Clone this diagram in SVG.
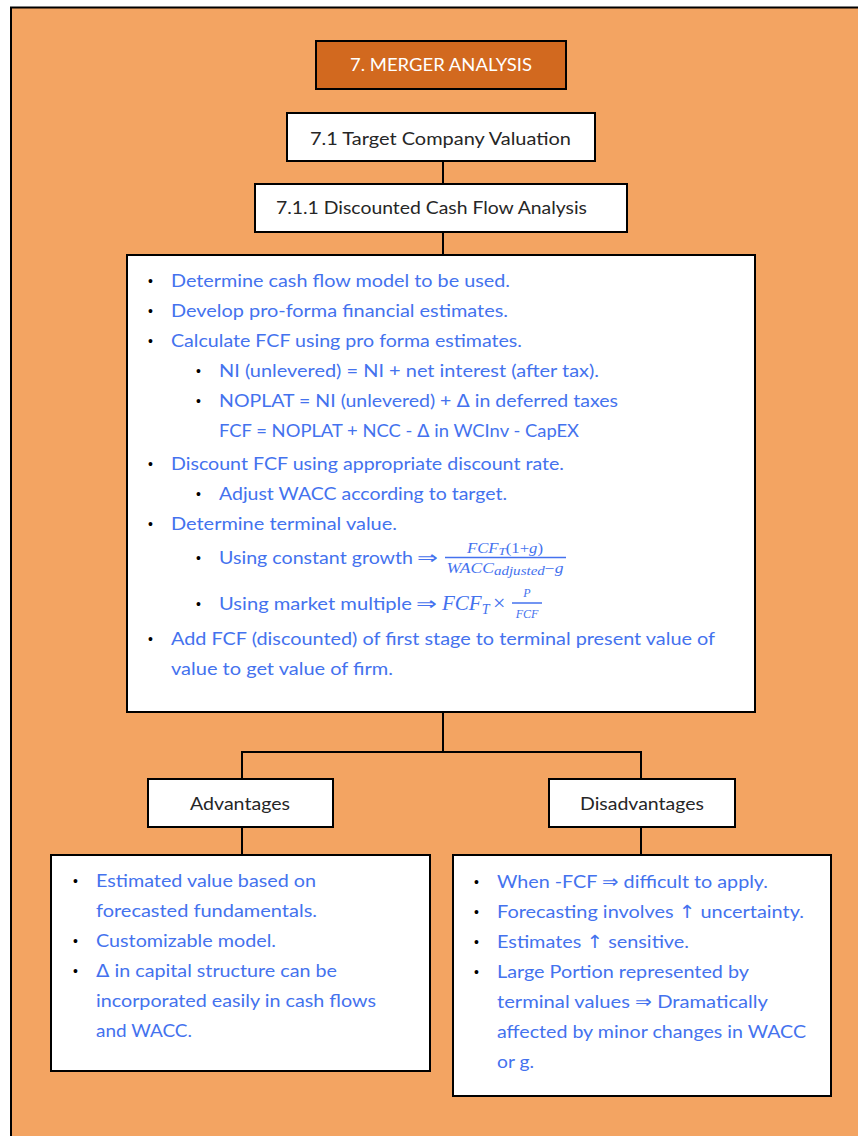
<svg xmlns="http://www.w3.org/2000/svg" width="858" height="1136" viewBox="0 0 858 1136">
  <style>
    .box { fill: #ffffff; stroke: #000000; stroke-width: 2; }
    .head { font-family: Lato, "Liberation Sans", sans-serif; font-size: 18px; fill: #262626; }
    .txt { font-family: Lato, "Liberation Sans", sans-serif; font-size: 18px; fill: #4472EE; }
    .dot { font-family: "Liberation Sans", sans-serif; font-size: 14px; fill: #000000; }
    .sym { font-family: "DejaVu Sans", sans-serif; }
    .math { font-family: "Liberation Serif", serif; font-style: italic; fill: #4472EE; }
    .up { font-style: normal; }
    .conn { stroke: #000000; stroke-width: 2; fill: none; }
  </style>

  <rect width="858" height="1136" fill="#ffffff"/>
  <rect x="11" y="7.5" width="880" height="1160" fill="#F3A462" stroke="#000000" stroke-width="2"/>

  <g id="connectors">
    <line class="conn" x1="443" y1="161" x2="443" y2="184"/>
    <line class="conn" x1="443" y1="232" x2="443" y2="255"/>
    <polyline class="conn" points="242,779 242,752 641,752 641,779"/>
    <line class="conn" x1="443" y1="712" x2="443" y2="752"/>
    <line class="conn" x1="242" y1="827" x2="242" y2="855"/>
    <line class="conn" x1="641" y1="827" x2="641" y2="855"/>
  </g>

  <g id="title">
    <rect x="316" y="41" width="250" height="48" fill="#D2691F" stroke="#000000" stroke-width="2"/>
    <text x="441" y="71" text-anchor="middle" font-family="Lato, 'Liberation Sans', sans-serif" font-size="17" fill="#ffffff" textLength="182" lengthAdjust="spacingAndGlyphs">7. MERGER ANALYSIS</text>
  </g>

  <g id="target-valuation">
    <rect class="box" x="287" y="113" width="308" height="48"/>
    <text class="head" x="310" y="144.5" textLength="261" lengthAdjust="spacingAndGlyphs">7.1 Target Company Valuation</text>
  </g>

  <g id="dcf">
    <rect class="box" x="255" y="184" width="372" height="48"/>
    <text class="head" x="276" y="213.5" textLength="311" lengthAdjust="spacingAndGlyphs">7.1.1 Discounted Cash Flow Analysis</text>
  </g>

  <g id="dcf-steps">
    <rect class="box" x="127" y="255" width="628" height="457"/>
    <text class="dot" x="148" y="286">•</text>
    <text class="txt" x="171" y="286.5" textLength="339" lengthAdjust="spacingAndGlyphs">Determine cash flow model to be used.</text>
    <text class="dot" x="148" y="316">•</text>
    <text class="txt" x="171" y="316.5" textLength="337" lengthAdjust="spacingAndGlyphs">Develop pro-forma financial estimates.</text>
    <text class="dot" x="148" y="346">•</text>
    <text class="txt" x="171" y="346.5" textLength="351" lengthAdjust="spacingAndGlyphs">Calculate FCF using pro forma estimates.</text>
    <text class="dot" x="196" y="376">•</text>
    <text class="txt" x="219" y="376.5" textLength="380" lengthAdjust="spacingAndGlyphs">NI (unlevered) = NI + net interest (after tax).</text>
    <text class="dot" x="196" y="406">•</text>
    <text class="txt" x="219" y="406.5" textLength="399" lengthAdjust="spacingAndGlyphs">NOPLAT = NI (unlevered) + <tspan class="sym">Δ</tspan> in deferred taxes</text>
    <text class="txt" x="219" y="436.5" textLength="360" lengthAdjust="spacingAndGlyphs">FCF = NOPLAT + NCC - <tspan class="sym">Δ</tspan> in WCInv - CapEX</text>
    <text class="dot" x="148" y="469">•</text>
    <text class="txt" x="171" y="469.5" textLength="393" lengthAdjust="spacingAndGlyphs">Discount FCF using appropriate discount rate.</text>
    <text class="dot" x="196" y="499">•</text>
    <text class="txt" x="219" y="499.5" textLength="288" lengthAdjust="spacingAndGlyphs">Adjust WACC according to target.</text>
    <text class="dot" x="148" y="529">•</text>
    <text class="txt" x="171" y="529.5" textLength="226" lengthAdjust="spacingAndGlyphs">Determine terminal value.</text>

    <!-- constant growth formula -->
    <text class="dot" x="196" y="563">•</text>
    <text class="txt" x="219" y="563.5" textLength="194" lengthAdjust="spacingAndGlyphs">Using constant growth</text>
    <text class="txt sym" x="417" y="564" font-size="21" textLength="21" lengthAdjust="spacingAndGlyphs">⇒</text>
    <text class="math" x="505" y="552.5" font-size="14" text-anchor="middle" textLength="76" lengthAdjust="spacingAndGlyphs">FCF<tspan font-size="11" dy="2">T</tspan><tspan class="up" dy="-2">(1+</tspan>g<tspan class="up">)</tspan></text>
    <line x1="445" y1="557.5" x2="566" y2="557.5" stroke="#4472EE" stroke-width="1.5"/>
    <text class="math" x="505" y="573" font-size="14" text-anchor="middle" textLength="117" lengthAdjust="spacingAndGlyphs">WACC<tspan font-size="12" dy="2">adjusted</tspan><tspan class="up" dy="-2">−</tspan>g</text>

    <!-- market multiple formula -->
    <text class="dot" x="196" y="609">•</text>
    <text class="txt" x="219" y="609.5" textLength="193" lengthAdjust="spacingAndGlyphs">Using market multiple</text>
    <text class="txt sym" x="416" y="610" font-size="21" textLength="21" lengthAdjust="spacingAndGlyphs">⇒</text>
    <text class="math" x="442" y="609.5" font-size="21">FCF<tspan font-size="14" dy="4">T</tspan></text>
    <text class="math up" x="493" y="610" font-size="22">×</text>
    <text class="math" x="527" y="597" font-size="12" text-anchor="middle">P</text>
    <line x1="512" y1="603" x2="542" y2="603" stroke="#4472EE" stroke-width="1.5"/>
    <text class="math" x="527" y="618" font-size="12" text-anchor="middle">FCF</text>

    <text class="dot" x="148" y="644">•</text>
    <text class="txt" x="171" y="644.5" textLength="544" lengthAdjust="spacingAndGlyphs">Add FCF (discounted) of first stage to terminal present value of</text>
    <text class="txt" x="171" y="674.5" textLength="222" lengthAdjust="spacingAndGlyphs">value to get value of firm.</text>
  </g>

  <g id="advantages">
    <rect class="box" x="148" y="779" width="185" height="48"/>
    <text class="head" x="190" y="810" textLength="100" lengthAdjust="spacingAndGlyphs">Advantages</text>
  </g>

  <g id="disadvantages">
    <rect class="box" x="549" y="779" width="186" height="48"/>
    <text class="head" x="580" y="810" textLength="124" lengthAdjust="spacingAndGlyphs">Disadvantages</text>
  </g>

  <g id="advantages-list">
    <rect class="box" x="51" y="855" width="379" height="216"/>
    <text class="dot" x="73" y="886">•</text>
    <text class="txt" x="96" y="887" textLength="220" lengthAdjust="spacingAndGlyphs">Estimated value based on</text>
    <text class="txt" x="96" y="917" textLength="221" lengthAdjust="spacingAndGlyphs">forecasted fundamentals.</text>
    <text class="dot" x="73" y="946">•</text>
    <text class="txt" x="96" y="947" textLength="180" lengthAdjust="spacingAndGlyphs">Customizable model.</text>
    <text class="dot" x="73" y="976">•</text>
    <text class="txt" x="96" y="977" textLength="241" lengthAdjust="spacingAndGlyphs"><tspan class="sym">Δ</tspan> in capital structure can be</text>
    <text class="txt" x="96" y="1007" textLength="280" lengthAdjust="spacingAndGlyphs">incorporated easily in cash flows</text>
    <text class="txt" x="96" y="1037" textLength="96" lengthAdjust="spacingAndGlyphs">and WACC.</text>
  </g>

  <g id="disadvantages-list">
    <rect class="box" x="453" y="855" width="378" height="241"/>
    <text class="dot" x="474" y="887">•</text>
    <text class="txt" x="497" y="888" textLength="271" lengthAdjust="spacingAndGlyphs">When -FCF <tspan class="sym">⇒</tspan> difficult to apply.</text>
    <text class="dot" x="474" y="917">•</text>
    <text class="txt" x="497" y="918" textLength="307" lengthAdjust="spacingAndGlyphs">Forecasting involves <tspan class="sym">↑</tspan> uncertainty.</text>
    <text class="dot" x="474" y="947">•</text>
    <text class="txt" x="497" y="948" textLength="192" lengthAdjust="spacingAndGlyphs">Estimates <tspan class="sym">↑</tspan> sensitive.</text>
    <text class="dot" x="474" y="977">•</text>
    <text class="txt" x="497" y="978" textLength="252" lengthAdjust="spacingAndGlyphs">Large Portion represented by</text>
    <text class="txt" x="497" y="1008" textLength="271" lengthAdjust="spacingAndGlyphs">terminal values <tspan class="sym">⇒</tspan> Dramatically</text>
    <text class="txt" x="497" y="1038" textLength="309" lengthAdjust="spacingAndGlyphs">affected by minor changes in WACC</text>
    <text class="txt" x="497" y="1068" textLength="37" lengthAdjust="spacingAndGlyphs">or g.</text>
  </g>
</svg>
